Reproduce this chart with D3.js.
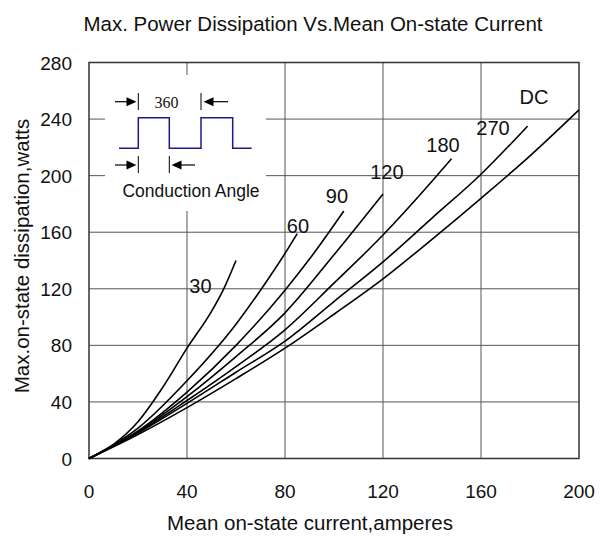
<!DOCTYPE html>
<html lang="en">
<head>
<meta charset="UTF-8">
<title>Max. Power Dissipation</title>
<style>
  body { margin: 0; background: #fff; }
  text { font-family: "Liberation Sans", Arial, sans-serif; fill: #111; }
</style>
</head>
<body>
<div id="viz"></div>
<script src="https://d3js.org/d3.v7.min.js"></script>
<script>
  // axis ticks
  const xTicks = [0, 40, 80, 120, 160, 200]
  const yTicks = [0, 40, 80, 120, 160, 200, 240, 280]

  // curves (amperes -> watts)
  const angles = ["30", "60", "90", "120", "180", "270", "DC"]
  const amps30 = [0, 10, 20, 30, 40, 50, 55, 60]
  const watts30 = [0, 10, 26, 50, 78, 104, 120, 140]
  const amps60 = [0, 20, 40, 60, 70, 80, 85]
  const watts60 = [0, 21.5, 55, 95, 119, 145, 159]
  const amps90 = [0, 20, 40, 60, 80, 90, 104]
  const watts90 = [0, 19.5, 47, 80, 119, 141, 175]
  const amps120 = [0, 20, 40, 60, 80, 100, 120]
  const watts120 = [0, 19, 43.7, 72, 103, 144, 187]
  const amps180 = [0, 20, 40, 60, 80, 100, 120, 140, 148]
  const watts180 = [0, 18.5, 41, 65, 91, 124, 158, 196, 212]
  const amps270 = [0, 20, 40, 60, 80, 100, 120, 140, 160, 179]
  const watts270 = [0, 18, 39, 61, 83, 111, 139, 170, 201, 235]
  const ampsDC = [0, 20, 40, 60, 80, 100, 120, 140, 160, 180, 200]
  const wattsDC = [0, 17, 36, 56.5, 78, 102, 127, 155, 184, 214, 246.5]

  // where each curve's label sits (data units)
  const labelAmps = [45.5, 85.3, 101.2, 121.6, 144.5, 164.9, 181.6]
  const labelWatts = [117, 159.5, 180.7, 197.7, 216.8, 228.8, 250.8]

  const series = [
    [amps30, watts30], [amps60, watts60], [amps90, watts90], [amps120, watts120],
    [amps180, watts180], [amps270, watts270], [ampsDC, wattsDC]
  ]

  const W = 602, H = 538
  const margin = {top: 62.5, right: 23, bottom: 79.5, left: 89}
  const width = W - margin.left - margin.right
  const height = H - margin.top - margin.bottom

  const svg = d3.select("#viz").append("svg")
    .attr("width", W).attr("height", H)

  const g = svg.append("g")
    .attr("transform", "translate(" + margin.left + "," + margin.top + ")")

  const x = d3.scaleLinear().domain([0, 200]).range([0, width])
  const y = d3.scaleLinear().domain([0, 280]).range([height, 0])

  // grid
  g.append("g").selectAll("line.vx")
    .data(xTicks.slice(1, -1)).enter().append("line")
    .attr("x1", d => x(d)).attr("x2", d => x(d))
    .attr("y1", 0).attr("y2", height)
    .attr("stroke", "#555").attr("stroke-width", 1)
  g.append("g").selectAll("line.hy")
    .data(yTicks.slice(1, -1)).enter().append("line")
    .attr("x1", 0).attr("x2", width)
    .attr("y1", d => y(d)).attr("y2", d => y(d))
    .attr("stroke", "#555").attr("stroke-width", 1)

  // frame
  g.append("rect")
    .attr("width", width).attr("height", height)
    .attr("fill", "none").attr("stroke", "#333").attr("stroke-width", 1.5)

  // tick labels
  g.append("g").selectAll("text")
    .data(xTicks).enter().append("text")
    .attr("x", d => x(d)).attr("y", height + 39)
    .attr("text-anchor", "middle").attr("font-size", 19)
    .text(d => d)
  g.append("g").selectAll("text")
    .data(yTicks).enter().append("text")
    .attr("x", -17).attr("y", d => y(d) + 7)
    .attr("text-anchor", "end").attr("font-size", 19)
    .text(d => d)

  // inset with the waveform sketch
  const inset = svg.append("g")
  inset.append("rect")
    .attr("x", 105).attr("y", 75).attr("width", 161).attr("height", 136)
    .attr("fill", "#fff")

  const waveX = [119, 138.3, 138.3, 169.3, 169.3, 201, 201, 232.7, 232.7, 251.7]
  const waveY = [148.3, 148.3, 117.7, 117.7, 148.3, 148.3, 117.7, 117.7, 148.3, 148.3]
  inset.append("path")
    .attr("d", d3.line()(waveX.map((v, i) => [v, waveY[i]])))
    .attr("fill", "none").attr("stroke", "#1c1c8c").attr("stroke-width", 1.5)

  function arrow(x1, x2, yy) {
    // line from x1 ending with a filled head at x2
    const dir = x2 > x1 ? 1 : -1
    inset.append("line")
      .attr("x1", x1).attr("x2", x2 - dir * 9).attr("y1", yy).attr("y2", yy)
      .attr("stroke", "#000").attr("stroke-width", 1.2)
    inset.append("path")
      .attr("d", "M" + x2 + "," + yy + "L" + (x2 - dir * 10) + "," + (yy - 4.5) + "L" + (x2 - dir * 10) + "," + (yy + 4.5) + "Z")
      .attr("fill", "#000")
  }
  function bar(xx, y1, y2) {
    inset.append("line")
      .attr("x1", xx).attr("x2", xx).attr("y1", y1).attr("y2", y2)
      .attr("stroke", "#000").attr("stroke-width", 1)
  }
  arrow(115, 136.5, 101.7)
  bar(138.3, 93, 110)
  arrow(228, 203.5, 101.7)
  bar(201, 93, 110)
  arrow(115, 136.5, 165)
  bar(138.3, 156, 173)
  arrow(195, 171.5, 165)
  bar(169.3, 156, 173)

  inset.append("text")
    .attr("x", 166.5).attr("y", 108)
    .attr("text-anchor", "middle")
    .style("font-family", "'Liberation Serif', 'Times New Roman', serif")
    .attr("font-size", 16)
    .text("360")
  inset.append("text")
    .attr("x", 191).attr("y", 196.5)
    .attr("text-anchor", "middle").attr("font-size", 17.5)
    .text("Conduction Angle")

  // curves
  const line = d3.line()
    .x(d => x(d[0])).y(d => y(d[1]))
    .curve(d3.curveMonotoneX)

  g.append("g").selectAll("path")
    .data(series).enter().append("path")
    .attr("d", s => line(s[0].map((a, i) => [a, s[1][i]])))
    .attr("fill", "none").attr("stroke", "#000").attr("stroke-width", 1.6)

  g.append("g").selectAll("text")
    .data(angles).enter().append("text")
    .attr("x", (d, i) => x(labelAmps[i])).attr("y", (d, i) => y(labelWatts[i]))
    .attr("text-anchor", "middle").attr("font-size", 20)
    .text(d => d)

  // titles
  svg.append("text")
    .attr("x", 313).attr("y", 31)
    .attr("text-anchor", "middle").attr("font-size", 20.5)
    .text("Max. Power Dissipation Vs.Mean On-state Current")
  svg.append("text")
    .attr("x", 310).attr("y", 530)
    .attr("text-anchor", "middle").attr("font-size", 20.5)
    .text("Mean on-state current,amperes")
  svg.append("text")
    .attr("transform", "translate(29,256) rotate(-90)")
    .attr("text-anchor", "middle").attr("font-size", 20.5)
    .text("Max.on-state dissipation,watts")
</script>
</body>
</html>
